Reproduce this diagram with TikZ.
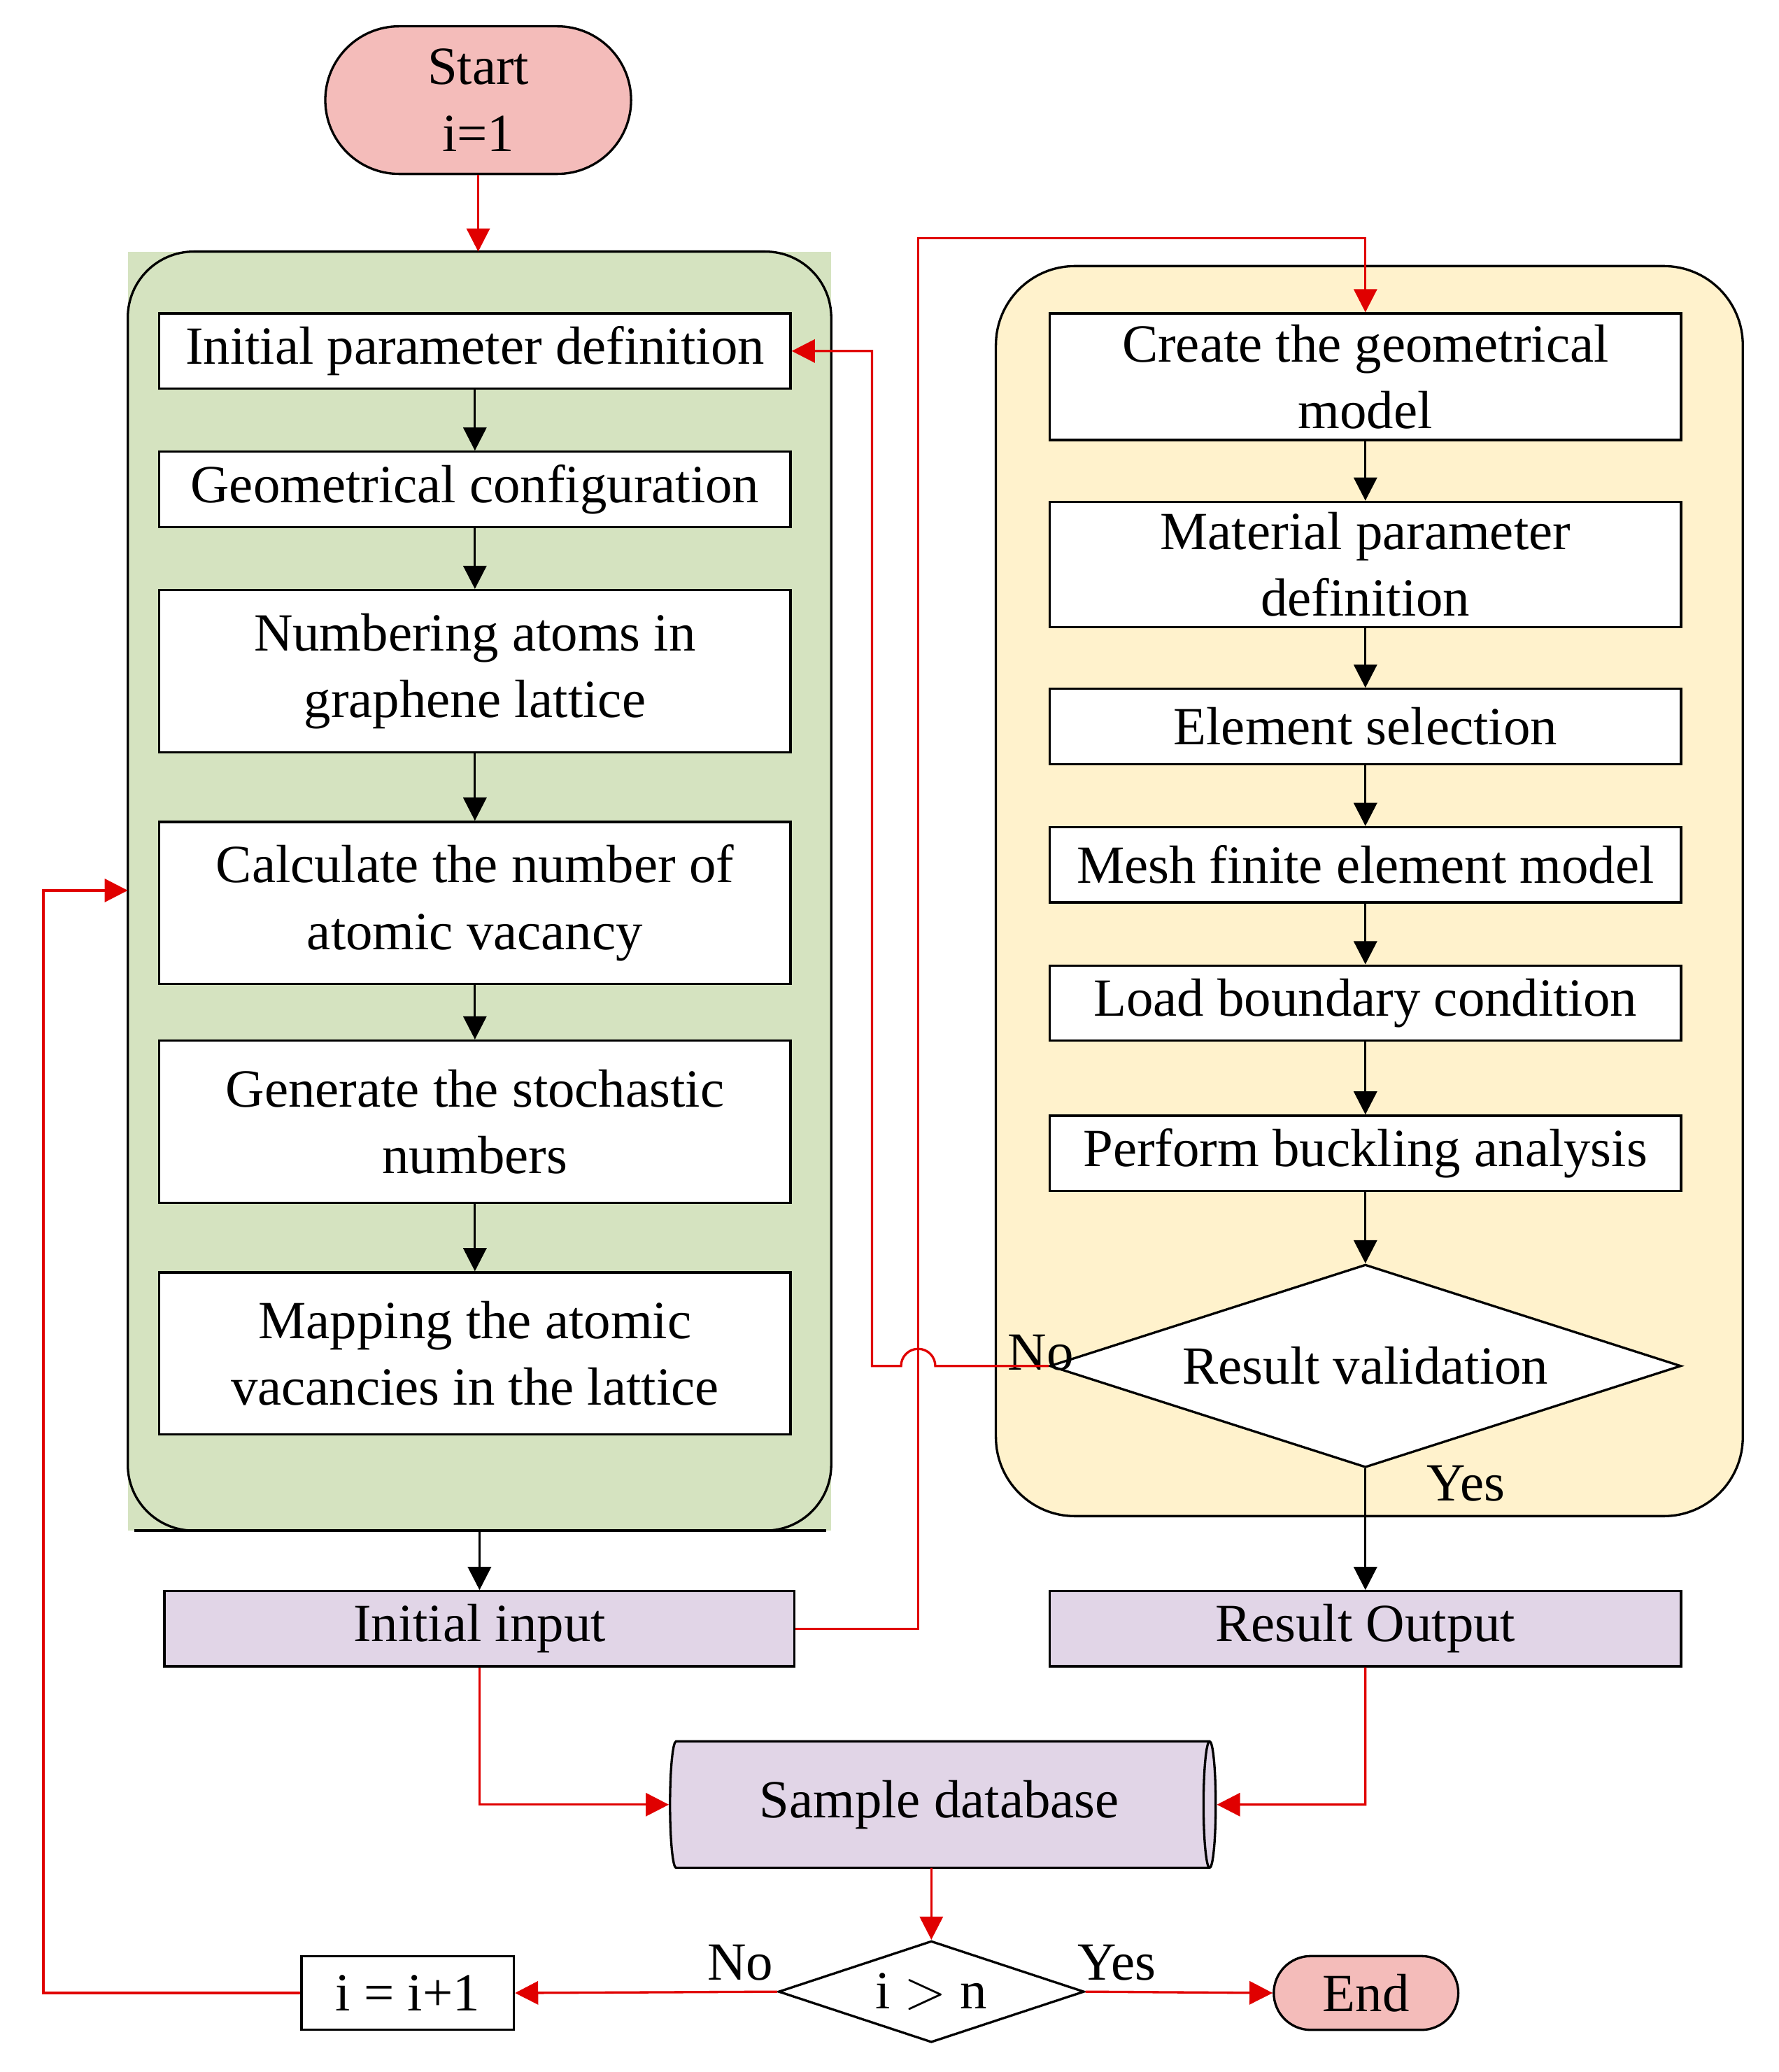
\documentclass[tikz,border=0pt]{standalone}
\usepackage{fontspec}
\setmainfont{Liberation Serif}
\usetikzlibrary{shapes.geometric,shapes.misc,arrows.meta}
\definecolor{pk}{HTML}{F4BCBA}
\definecolor{gr}{HTML}{D5E3C0}
\definecolor{yl}{HTML}{FFF2CC}
\definecolor{pu}{HTML}{E1D5E7}
\definecolor{rd}{HTML}{E00000}
\begin{document}
\begin{tikzpicture}[x=0.01cm,y=-0.01cm,
  every node/.style={font=\fontsize{11.6}{14.4}\selectfont,align=center,inner sep=0pt},
  box/.style={draw,fill=white,minimum width=4.79cm,line width=0.5pt},
  pbox/.style={box,fill=pu},
  term/.style={draw,fill=pk,rounded rectangle,line width=0.5pt},
  ar/.style={-{Triangle[width=5pt,length=5pt]},line width=0.5pt},
  rar/.style={-{Triangle[width=5pt,length=5pt,fill=rd]},draw=rd,line width=0.5pt}]
\useasboundingbox (0,0) rectangle (1350,1573);
% containers
\fill[gr] (97,191) rectangle (631,1162);
\draw[line width=0.5pt,rounded corners=0.5cm] (97,1162) -- (97,191) -- (631,191) -- (631,1162) -- cycle;
\draw[line width=0.5pt] (102,1162) -- (627,1162);
\draw[fill=yl,line width=0.5pt,rounded corners=0.6cm] (756,202) rectangle (1323,1151);
% start
\node[term,minimum width=2.32cm,minimum height=1.12cm] (start) at (363,76) {Start\\i=1};
% left boxes
\node[box,minimum height=0.57cm] (a1) at (360.5,266.5) {Initial parameter definition};
\node[box,minimum height=0.57cm] (a2) at (360.5,371.5) {Geometrical configuration};
\node[box,minimum height=1.23cm] (a3) at (360.5,509.5) {Numbering atoms in\\graphene lattice};
\node[box,minimum height=1.23cm] (a4) at (360.5,685.5) {Calculate the number of\\atomic vacancy};
\node[box,minimum height=1.23cm] (a5) at (360.5,851.5) {Generate the stochastic\\numbers};
\node[box,minimum height=1.23cm] (a6) at (360.5,1027.5) {Mapping the atomic\\vacancies in the lattice};
\foreach \i/\j in {a1/a2,a2/a3,a3/a4,a4/a5,a5/a6} \draw[ar] (\i) -- (\j);
% right boxes
\node[box,minimum height=0.96cm] (b1) at (1036.5,286) {Create the geometrical\\model};
\node[box,minimum height=0.95cm] (b2) at (1036.5,428.5) {Material parameter\\definition};
\node[box,minimum height=0.57cm] (b3) at (1036.5,551.5) {Element selection};
\node[box,minimum height=0.57cm] (b4) at (1036.5,656.5) {Mesh finite element model};
\node[box,minimum height=0.57cm] (b5) at (1036.5,761.5) {Load boundary condition};
\node[box,minimum height=0.57cm] (b6) at (1036.5,875.5) {Perform buckling analysis};
\node[draw,fill=white,diamond,aspect=3.1,minimum width=4.79cm,minimum height=1.54cm,line width=0.5pt] (d1) at (1036.5,1037) {Result validation};
\foreach \i/\j in {b1/b2,b2/b3,b3/b4,b4/b5,b5/b6,b6/d1} \draw[ar] (\i) -- (\j);
\node at (790,1027) {No};
\node at (1113,1126) {Yes};
% outputs
\node[pbox,minimum width=4.78cm,minimum height=0.57cm] (ii) at (364,1236.5) {Initial input};
\node[pbox,minimum height=0.57cm] (ro) at (1036.5,1236.5) {Result Output};
\coordinate (gb) at (364,1162);
\draw[ar] (gb) -- (ii.north);
\draw[ar] (d1.south) -- (ro.north);
\node[cylinder,draw,fill=pu,shape aspect=0.25,minimum width=0.96cm,minimum height=4.14cm,line width=0.5pt] (db) at (713,1370) {Sample database};
\node[draw,fill=white,diamond,aspect=3,minimum width=2.32cm,minimum height=0.77cm,line width=0.5pt] (d2) at (707,1512) {i $>$ n};
\node[draw,fill=white,minimum width=1.61cm,minimum height=0.56cm,line width=0.5pt] (inc) at (309.5,1513) {i = i+1};
\node[term,minimum width=1.4cm,minimum height=0.56cm] (end) at (1037,1513) {End};
\node at (562,1490) {No};
\node at (848,1490) {Yes};
% red connectors
\coordinate (gt) at (363,191);
\coordinate (gl) at (97,676);
\coordinate (dbb) at (707,1418);
\draw[rar] (start.south) -- (gt);
\draw[rar] (ii.east) -- (697,1236.5) -- (697,181) -- (1036.5,181) -- (b1.north);
\draw[rar] (d1.west) -- (710,1037) arc(0:-180:13) -- (662,1037) -- (662,266.5) -- (a1.east);
\draw[rar] (ii.south) -- (364,1370) -- (db.west);
\draw[rar] (ro.south) -- (1036.5,1370) -- (db.east);
\draw[rar] (dbb) -- (d2.north);
\draw[rar] (d2.west) -- (inc.east);
\draw[rar] (d2.east) -- (end.west);
\draw[rar] (inc.west) -- (33,1513) -- (33,676) -- (gl);
\end{tikzpicture}
\end{document}
